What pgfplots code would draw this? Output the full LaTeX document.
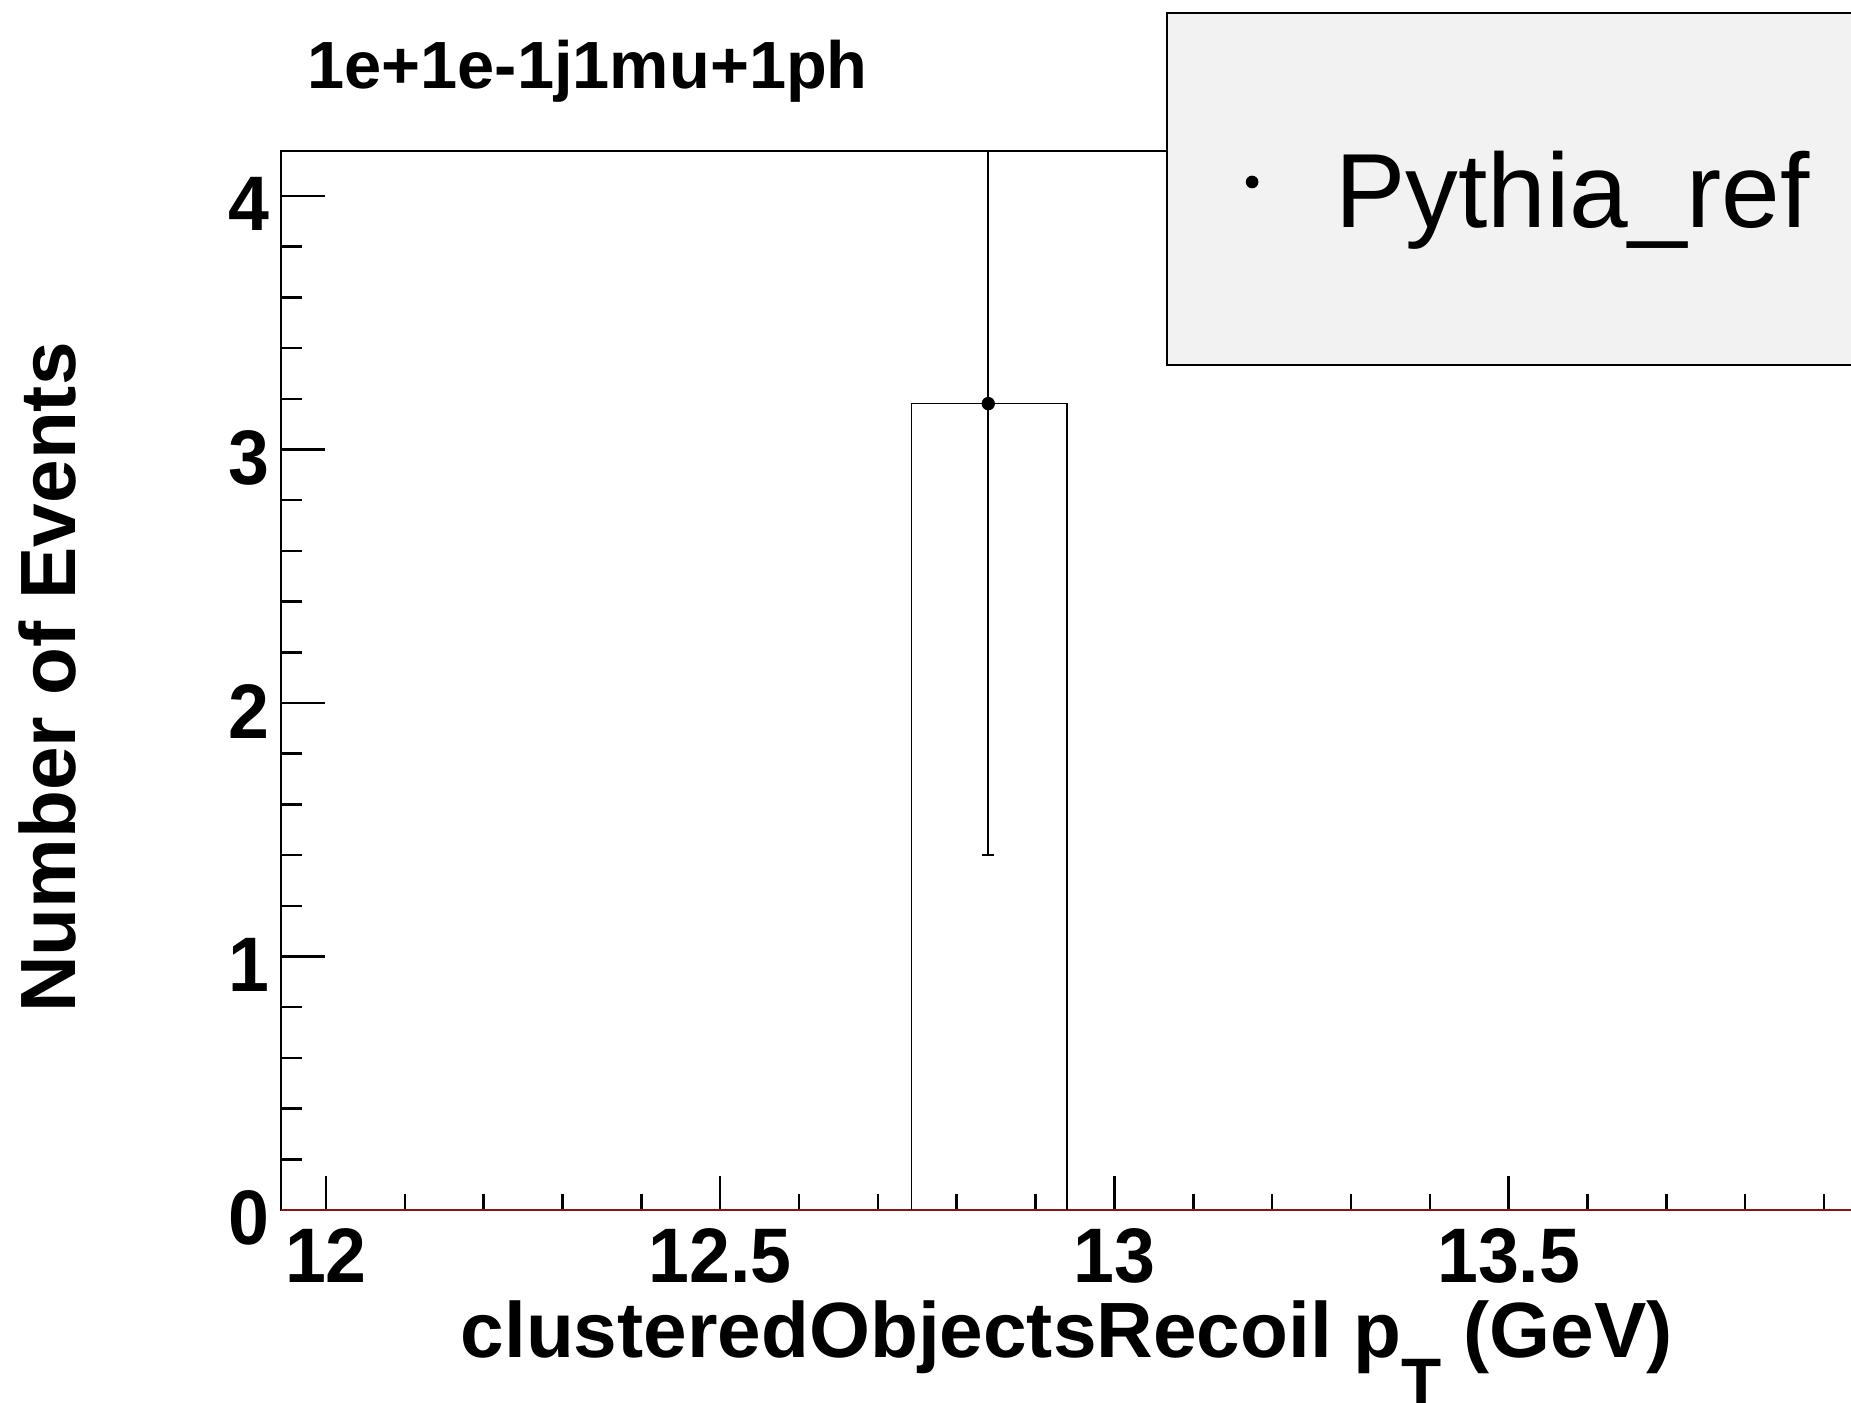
\documentclass[border=0pt]{standalone}
\usepackage{fontspec}
\setmainfont{Liberation Sans}
\usepackage{pgfplots}
\pgfplotsset{compat=1.18}
\definecolor{legendgray}{RGB}{242,242,242}
\definecolor{emptyred}{RGB}{140,20,20}

\begin{document}
\begin{tikzpicture}
\clip (0,0) rectangle (18.51cm,14.02cm);
\begin{axis}[
    at={(2.81cm,1.92cm)}, anchor=south west,
    scale only axis, width=15.99cm, height=10.59cm,
    xmin=11.943, xmax=13.971, ymin=0, ymax=4.1775,
    xtick={12,12.5,13,13.5,14}, ytick={0,1,2,3,4},
    minor x tick num=4, minor y tick num=4,
    tick pos=left, tick align=inside,
    axis line style={line width=0.7pt},
    every tick/.style={black, line width=0.7pt},
    every major x tick/.append style={/pgfplots/major tick length=0.34cm},
    every minor x tick/.append style={/pgfplots/minor tick length=0.16cm},
    every major y tick/.append style={/pgfplots/major tick length=0.44cm},
    every minor y tick/.append style={/pgfplots/minor tick length=0.21cm},
    /pgf/number format/assume math mode=true,
    ticklabel style={font=\bfseries\fontsize{22}{24}\selectfont, inner sep=0pt, xscale=0.95},
    xticklabel style={anchor=north, yshift=-0.18cm},
    yticklabel style={anchor=east, xshift=-0.12cm, yshift=-0.08cm},
    title={1e+1e-1j1mu+1ph},
    title style={at={(axis description cs:0.016,1.0387)}, anchor=base west,
        inner sep=0pt, font=\bfseries\fontsize{19}{22}\selectfont},
    xlabel={clusteredObjectsRecoil p\raisebox{-13.4pt}{\fontsize{18.7}{20}\selectfont T} (GeV)},
    xlabel style={at={(axis description cs:0.4913,-0.1394)}, anchor=base,
        inner sep=0pt, font=\bfseries\fontsize{22.3}{26}\selectfont},
    ylabel={Number of Events},
    ylabel style={at={(axis description cs:-0.1285,0.5027)}, anchor=base,
        inner sep=0pt, font=\bfseries\fontsize{22.3}{26}\selectfont},
    legend cell align=left,
    legend style={at={(axis description cs:0.5535,1.1313)}, anchor=north west,
        draw=black, fill=legendgray, line width=0.6pt, inner sep=0pt,
        nodes={inner sep=0pt, text depth=0pt, draw=none},
        font=\fontsize{30}{34}\selectfont},
]

% empty reference histogram along zero
\addplot[emptyred, line width=0.4pt, forget plot]
    coordinates {(11.943,0) (13.971,0)};

% filled bin outline
\addplot[black, line width=0.5pt, forget plot]
    coordinates {(12.7425,0) (12.7425,3.181) (12.940,3.181) (12.940,0)};

% data point with error bar
\addplot[black, only marks, mark=*, mark size=1.7pt,
    legend image code/.code={
        \path[draw=none, fill=none] (0,-1.76cm) rectangle (1.68cm,1.76cm);
        \fill[black, draw=none] (0.85cm,2pt) circle (1.8pt);},
    error bars/.cd, y dir=both, y explicit, error mark=|,
    error bar style={line width=0.5pt},
    error mark options={mark size=1.7pt, line width=0.5pt},
    ]
    coordinates {(12.84,3.181) +- (0,1.78)};
\addlegendentry{Pythia\_ref\hspace*{1.5cm}}

\end{axis}
\end{tikzpicture}
\end{document}
